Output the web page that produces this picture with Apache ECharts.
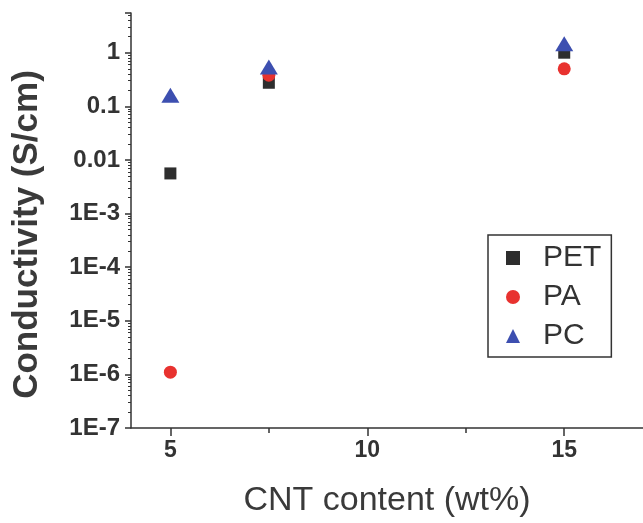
<!DOCTYPE html>
<html>
<head>
<meta charset="utf-8">
<script src="https://cdn.jsdelivr.net/npm/echarts@6/dist/echarts.min.js"></script>
<style>
  html, body { margin: 0; padding: 0; background: #fff; }
  #main { width: 643px; height: 523px; }
</style>
</head>
<body>
<div id="main"></div>
<script>
// CNT content (wt%)
var cntContent = [5, 7.5, 15];
// conductivity (S/cm)
var petValues = [0.0056, 0.275, 1.0];
var paValues = [1.1e-6, 0.38, 0.5];
var pcValues = [0.16, 0.54, 1.47];

var seriesNames = ['PET', 'PA', 'PC'];
var xMajorTicks = [5, 10, 15];
var xMinorTicks = [7.5, 12.5];
var yMin = 1e-7, yMax = 5.5;

// minor ticks 2..9 of every decade, placed on a helper axis in log10 units
var yMinorTicks = [];
for (var e = -7; e <= 0; e++) {
  for (var k = 2; k <= 9; k++) {
    if (k * Math.pow(10, e) < yMax) yMinorTicks.push(Math.log10(k * Math.pow(10, e)));
  }
}

function pairs(values) {
  return cntContent.map(function (x, i) { return [x, values[i]]; });
}

function yLabel(v) {
  var p = Math.round(Math.log10(v));
  if (Math.abs(Math.log10(v) - p) > 1e-6) return '';
  if (p >= 0) return String(Math.pow(10, p));
  if (p >= -2) return Math.pow(10, p).toFixed(-p);
  return '1E' + p;
}

var myChart = echarts.init(document.getElementById('main'));
myChart.setOption({
  backgroundColor: '#ffffff',
  animation: false,
  grid: { left: 131, right: 0, top: 13, bottom: 95 },
  legend: {
    orient: 'vertical',
    left: 488,
    top: 235,
    padding: [8, 10, 6, 18],
    itemGap: 9,
    itemWidth: 14,
    itemHeight: 14,
    borderColor: '#333',
    borderWidth: 1.5,
    textStyle: {
      fontFamily: 'Liberation Sans, Arial, sans-serif',
      fontSize: 30,
      lineHeight: 26,
      color: '#333',
      padding: [0, 0, 0, 18]
    },
    data: [
      { name: 'PET', icon: 'rect' },
      { name: 'PA', icon: 'circle' },
      { name: 'PC', icon: 'triangle' }
    ]
  },
  xAxis: [
    {
      type: 'value',
      min: 4,
      max: 17,
      name: 'CNT content (wt%)',
      nameLocation: 'middle',
      nameGap: 56,
      nameTextStyle: {
        fontFamily: 'Liberation Sans, Arial, sans-serif',
        fontSize: 34,
        color: '#3a3a3a'
      },
      axisLine: { onZero: false, lineStyle: { color: '#333', width: 1.5 } },
      axisTick: { customValues: xMajorTicks, length: 8, lineStyle: { color: '#333', width: 1.5 } },
      axisLabel: {
        customValues: xMajorTicks,
        margin: 11,
        fontFamily: 'Liberation Sans, Arial, sans-serif',
        fontWeight: 'bold',
        fontSize: 23,
        color: '#333'
      },
      splitLine: { show: false }
    },
    {
      type: 'value',
      min: 4,
      max: 17,
      position: 'bottom',
      axisLine: { show: false, onZero: false },
      axisTick: { customValues: xMinorTicks, length: 5, lineStyle: { color: '#333', width: 1.5 } },
      axisLabel: { show: false },
      splitLine: { show: false }
    }
  ],
  yAxis: [
    {
      type: 'log',
      logBase: 10,
      min: yMin,
      max: yMax,
      name: 'Conductivity (S/cm)',
      nameLocation: 'middle',
      nameRotate: 90,
      nameGap: 86,
      nameTextStyle: {
        fontFamily: 'Liberation Sans, Arial, sans-serif',
        fontWeight: 'bold',
        fontSize: 35,
        color: '#3a3a3a',
        padding: [0, 28, 0, 0]
      },
      axisLine: { onZero: false, lineStyle: { color: '#333', width: 1.5 } },
      axisTick: { length: 6, lineStyle: { color: '#333', width: 1.5 } },
      axisLabel: {
        formatter: yLabel,
        margin: 11,
        fontFamily: 'Liberation Sans, Arial, sans-serif',
        fontWeight: 'bold',
        fontSize: 24,
        color: '#333'
      },
      splitLine: { show: false }
    },
    {
      type: 'value',
      min: Math.log10(yMin),
      max: Math.log10(yMax),
      position: 'left',
      axisLine: { show: false, onZero: false },
      axisTick: { customValues: yMinorTicks, length: 3, lineStyle: { color: '#333', width: 1 } },
      axisLabel: { show: false },
      splitLine: { show: false }
    }
  ],
  series: [
    {
      name: seriesNames[0],
      type: 'scatter',
      symbol: 'rect',
      symbolSize: 12,
      itemStyle: { color: '#2e2e2e', opacity: 1 },
      data: pairs(petValues)
    },
    {
      name: seriesNames[1],
      type: 'scatter',
      symbol: 'circle',
      symbolSize: 13,
      itemStyle: { color: '#e8322f', opacity: 1 },
      data: pairs(paValues)
    },
    {
      name: seriesNames[2],
      type: 'scatter',
      symbol: 'triangle',
      symbolSize: [18, 15],
      itemStyle: { color: '#3d4fb0', opacity: 1 },
      data: pairs(pcValues)
    }
  ]
});
</script>
</body>
</html>
